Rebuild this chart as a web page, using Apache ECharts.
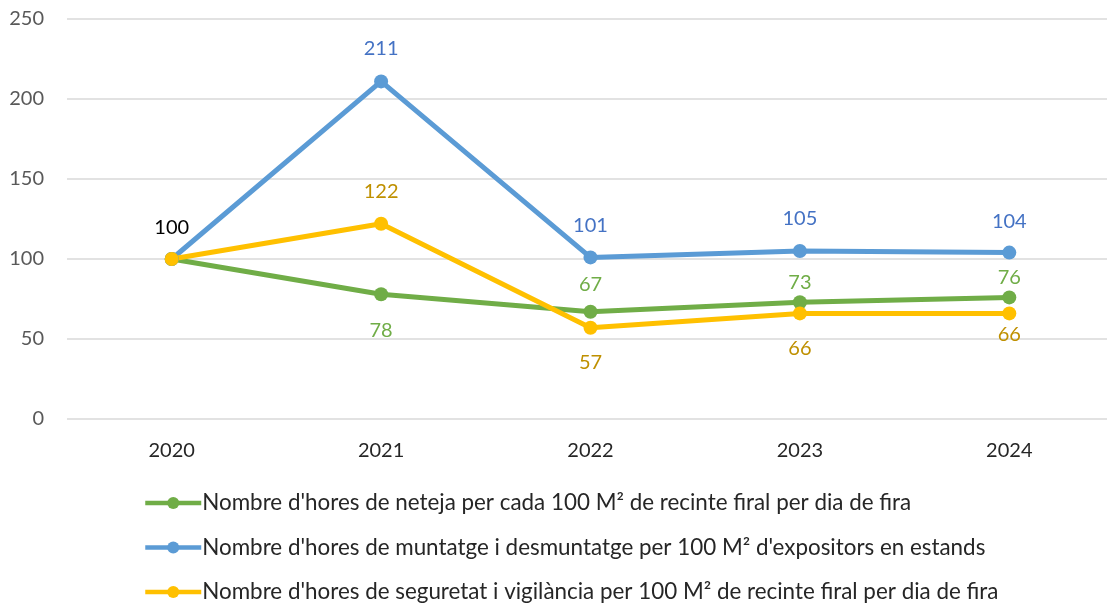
<!DOCTYPE html>
<html>
<head>
<meta charset="utf-8">
<script src="https://cdn.jsdelivr.net/npm/echarts@6/dist/echarts.min.js"></script>
<style>html,body{margin:0;padding:0;background:#fff}#c{width:1107px;height:606px}</style>
</head>
<body>
<div id="c"></div>
<script>
const years = ['2020', '2021', '2022', '2023', '2024'];
const yTicks = [0, 50, 100, 150, 200, 250];
const neteja = [100, 78, 67, 73, 76];
const muntatge = [100, 211, 101, 105, 104];
const seguretat = [100, 122, 57, 66, 66];
const names = [
  "Nombre d'hores de neteja per cada 100 M² de recinte firal per dia de fira",
  "Nombre d'hores de muntatge i desmuntatge per 100 M² d'expositors en estands",
  "Nombre d'hores de seguretat i vigilància per 100 M² de recinte firal per dia de fira"
];

const FONT = 'Lato';
const FS = 20;

// label placement style: [side, distance] per point
function mk(name, values, lineColor, labelColor, place) {
  return {
    name: name,
    type: 'line',
    data: values.map((v, i) => {
      const p = place[i];
      return {
        value: v,
        label: p === null ? { show: false } : {
          show: true,
          position: p[0],
          distance: p[1],
          color: (i === 0) ? '#000000' : labelColor
        }
      };
    }),
    symbol: 'circle',
    symbolSize: 14,
    lineStyle: { color: lineColor, width: 5 },
    itemStyle: { color: lineColor },
    label: { fontFamily: FONT, fontSize: FS },
    emphasis: { disabled: true },
    animation: false
  };
}

const chart = echarts.init(document.getElementById('c'), null, { renderer: 'canvas' });
chart.setOption({
  backgroundColor: '#ffffff',
  animation: false,
  textStyle: { fontFamily: FONT },
  grid: { left: 67, top: 19, width: 1047, height: 400, containLabel: false, outerBoundsMode: 'none' },
  xAxis: {
    type: 'category',
    data: years,
    boundaryGap: true,
    axisLine: { show: false },
    axisTick: { show: false },
    axisLabel: { color: '#262626', fontFamily: FONT, fontSize: FS, margin: 22 }
  },
  yAxis: {
    type: 'value',
    min: yTicks[0],
    max: yTicks[yTicks.length - 1],
    interval: yTicks[1] - yTicks[0],
    axisLine: { show: false },
    axisTick: { show: false },
    splitLine: { lineStyle: { color: '#d9d9d9', width: 1.5 } },
    axisLabel: { color: '#595959', fontFamily: FONT, fontSize: FS, margin: 23 }
  },
  legend: {
    orient: 'vertical',
    left: 143,
    top: 492,
    padding: 0,
    itemWidth: 56,
    itemHeight: 15,
    itemGap: 22.5,
    lineStyle: { width: 4.5 },
    textStyle: { fontFamily: FONT, fontSize: 22.4, color: '#262626', padding: [0, 0, 0, -4] },
    data: names
  },
  series: [
    mk(names[0], neteja, '#70AD47', '#70AD47',
       [null, ['bottom', 19], ['top', 10], ['top', 3], ['top', 3]]),
    mk(names[1], muntatge, '#5B9BD5', '#4472C4',
       [null, ['top', 16], ['top', 15], ['top', 15], ['top', 14]]),
    mk(names[2], seguretat, '#FFC000', '#BF9000',
       [['top', 14], ['top', 15], ['bottom', 18], ['bottom', 18], ['bottom', 4]])
  ]
});
</script>
</body>
</html>
